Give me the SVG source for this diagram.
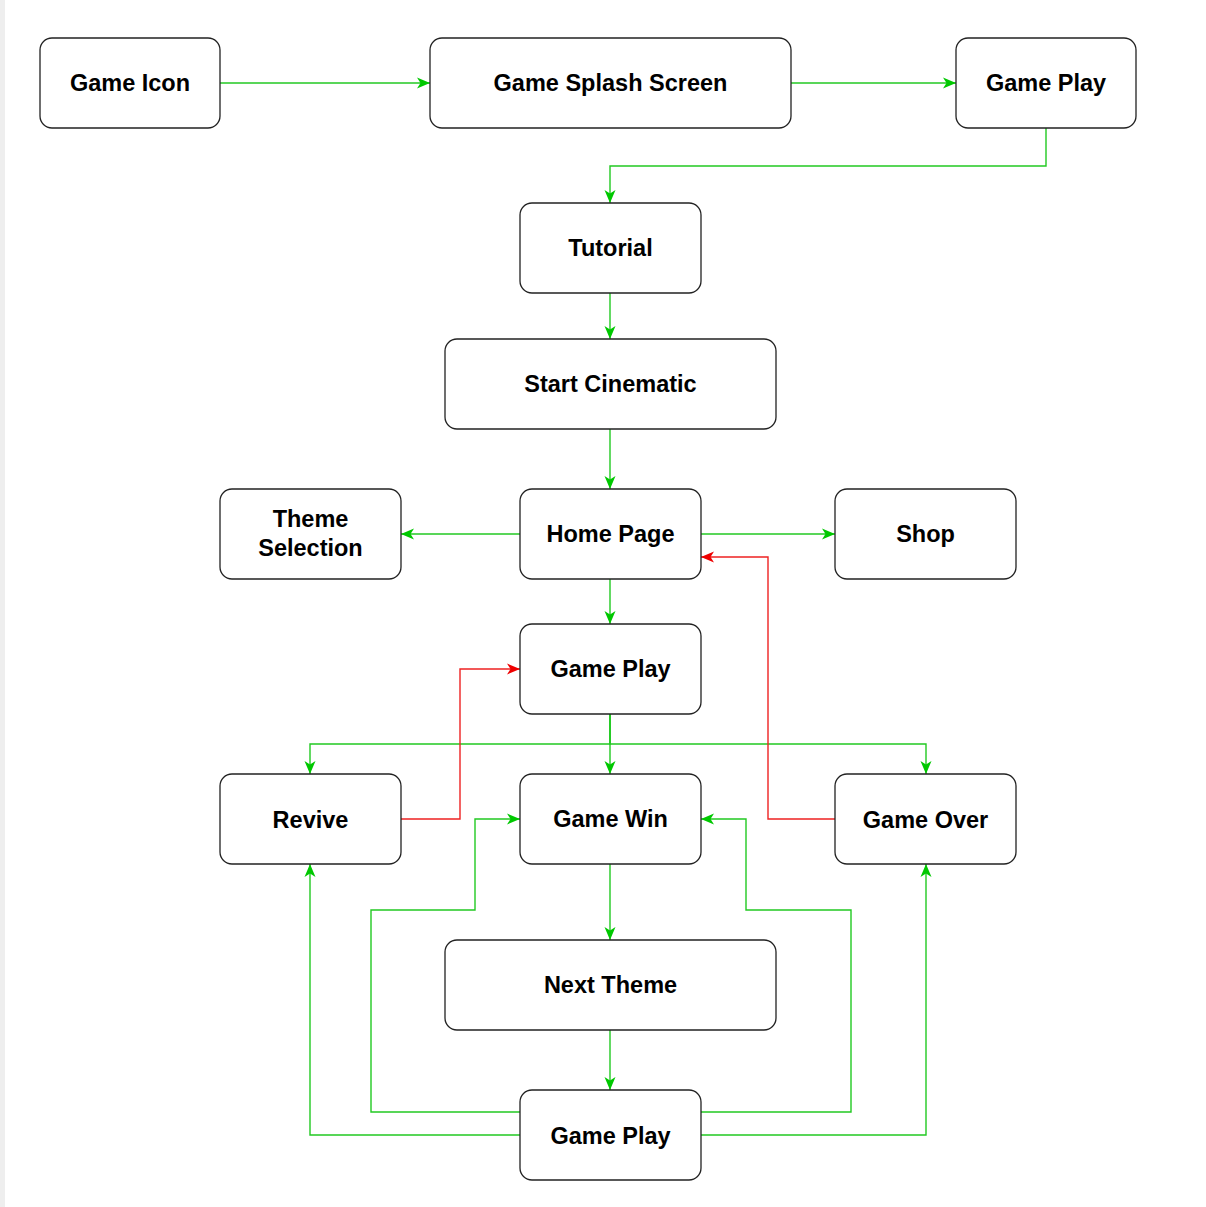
<svg xmlns="http://www.w3.org/2000/svg" width="1206" height="1207" viewBox="0 0 1206 1207">
<style>
.node rect{fill:#fff;stroke:#222;stroke-width:1.3}
.node text{font-family:"Liberation Sans","DejaVu Sans",sans-serif;font-weight:bold;font-size:23.5px;fill:#000;text-anchor:middle}
.g{fill:none;stroke:#22c922;stroke-width:1.4}
.r{fill:none;stroke:#ee2222;stroke-width:1.4}
</style>
<defs>
<marker id="ag" markerUnits="userSpaceOnUse" markerWidth="14" markerHeight="14" refX="13" refY="7" orient="auto" viewBox="0 0 14 14">
<path d="M0,1.5 L13,7 L0,12.5 L3.5,7 Z" fill="#00c800"/>
</marker>
<marker id="ar" markerUnits="userSpaceOnUse" markerWidth="14" markerHeight="14" refX="13" refY="7" orient="auto" viewBox="0 0 14 14">
<path d="M0,1.5 L13,7 L0,12.5 L3.5,7 Z" fill="#ee0000"/>
</marker>
</defs>
<rect x="0" y="0" width="1206" height="1207" fill="#fff"/>
<rect x="0" y="0" width="5" height="1207" fill="#eeeeee"/>
<g id="connectors">
<path class="g" d="M220,83 H430" marker-end="url(#ag)"/>
<path class="g" d="M791,83 H956" marker-end="url(#ag)"/>
<path class="g" d="M1046,128 V166 H610 V203" marker-end="url(#ag)"/>
<path class="g" d="M610,293 V339" marker-end="url(#ag)"/>
<path class="g" d="M610,429 V489" marker-end="url(#ag)"/>
<path class="g" d="M520,534 H401" marker-end="url(#ag)"/>
<path class="g" d="M700,534 H835" marker-end="url(#ag)"/>
<path class="g" d="M610,579 V624" marker-end="url(#ag)"/>
<path class="g" d="M610,714 V774" marker-end="url(#ag)"/>
<path class="g" d="M610,714 V744 H310 V774" marker-end="url(#ag)"/>
<path class="g" d="M610,714 V744 H926 V774" marker-end="url(#ag)"/>
<path class="r" d="M401,819 H460 V669 H520" marker-end="url(#ar)"/>
<path class="r" d="M835,819 H768 V557 H701" marker-end="url(#ar)"/>
<path class="g" d="M610,864 V940" marker-end="url(#ag)"/>
<path class="g" d="M610,1030 V1090" marker-end="url(#ag)"/>
<path class="g" d="M520,1112 H371 V910 H475 V819 H520" marker-end="url(#ag)"/>
<path class="g" d="M701,1112 H851 V910 H746 V819 H701" marker-end="url(#ag)"/>
<path class="g" d="M520,1135 H310 V864" marker-end="url(#ag)"/>
<path class="g" d="M701,1135 H926 V864" marker-end="url(#ag)"/>
</g>
<g id="n-game-icon" class="node"><rect x="40" y="38" width="180" height="90" rx="12"/><text x="130" y="91">Game Icon</text></g>
<g id="n-splash" class="node"><rect x="430" y="38" width="361" height="90" rx="12"/><text x="610.5" y="91">Game Splash Screen</text></g>
<g id="n-gameplay-top" class="node"><rect x="956" y="38" width="180" height="90" rx="12"/><text x="1046" y="91">Game Play</text></g>
<g id="n-tutorial" class="node"><rect x="520" y="203" width="181" height="90" rx="12"/><text x="610.5" y="256">Tutorial</text></g>
<g id="n-start" class="node"><rect x="445" y="339" width="331" height="90" rx="12"/><text x="610.5" y="392">Start Cinematic</text></g>
<g id="n-theme-sel" class="node"><rect x="220" y="489" width="181" height="90" rx="12"/><text x="310.5" y="527">Theme</text><text x="310.5" y="556">Selection</text></g>
<g id="n-home" class="node"><rect x="520" y="489" width="181" height="90" rx="12"/><text x="610.5" y="542">Home Page</text></g>
<g id="n-shop" class="node"><rect x="835" y="489" width="181" height="90" rx="12"/><text x="925.5" y="542">Shop</text></g>
<g id="n-gameplay-mid" class="node"><rect x="520" y="624" width="181" height="90" rx="12"/><text x="610.5" y="677">Game Play</text></g>
<g id="n-revive" class="node"><rect x="220" y="774" width="181" height="90" rx="12"/><text x="310.5" y="828">Revive</text></g>
<g id="n-game-win" class="node"><rect x="520" y="774" width="181" height="90" rx="12"/><text x="610.5" y="827">Game Win</text></g>
<g id="n-game-over" class="node"><rect x="835" y="774" width="181" height="90" rx="12"/><text x="925.5" y="828">Game Over</text></g>
<g id="n-next-theme" class="node"><rect x="445" y="940" width="331" height="90" rx="12"/><text x="610.5" y="993">Next Theme</text></g>
<g id="n-gameplay-bot" class="node"><rect x="520" y="1090" width="181" height="90" rx="12"/><text x="610.5" y="1144">Game Play</text></g>
</svg>
